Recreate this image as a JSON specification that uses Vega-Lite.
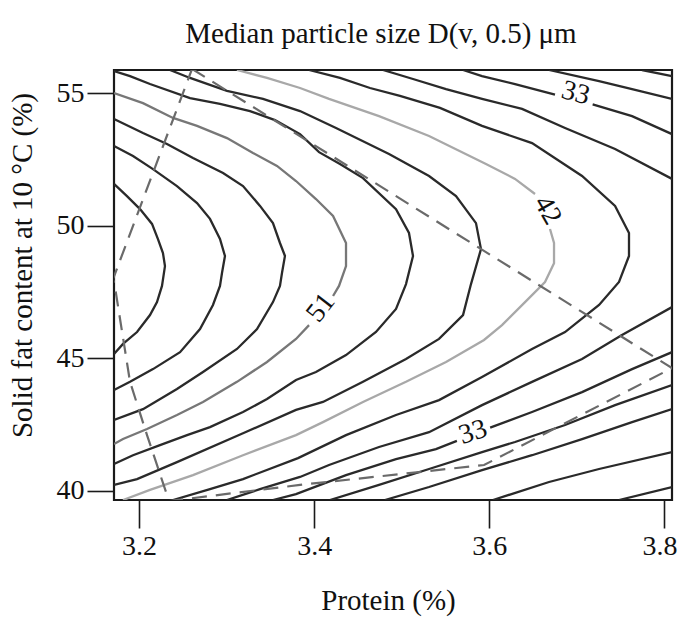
{
"$schema":"https://vega.github.io/schema/vega-lite/v6.json",
"width":558,"height":430,
"autosize":{"type":"none"},
"padding":{"left":114,"top":70,"right":6,"bottom":118},
"background":"white",
"title":{"text":"Median particle size D(v, 0.5) μm","font":"Liberation Serif","fontSize":29,"fontWeight":"normal","color":"#111","anchor":"middle","frame":"group","dx":-12,"dy":29,"baseline":"alphabetic","offset":27},
"config":{"view":{"stroke":"#1a1a1a","strokeWidth":2.2},"font":"Liberation Serif"},
"datasets":{
"contours":[
{"seg":"c60","level":"60","o":1,"protein":3.1715,"sfc":51.58},
{"seg":"c60","level":"60","o":2,"protein":3.1863,"sfc":51.12},
{"seg":"c60","level":"60","o":3,"protein":3.2012,"sfc":50.63},
{"seg":"c60","level":"60","o":4,"protein":3.2149,"sfc":50.07},
{"seg":"c60","level":"60","o":5,"protein":3.2217,"sfc":49.50},
{"seg":"c60","level":"60","o":6,"protein":3.2274,"sfc":48.97},
{"seg":"c60","level":"60","o":7,"protein":3.2297,"sfc":48.48},
{"seg":"c60","level":"60","o":8,"protein":3.2263,"sfc":47.73},
{"seg":"c60","level":"60","o":9,"protein":3.2206,"sfc":47.12},
{"seg":"c60","level":"60","o":10,"protein":3.2126,"sfc":46.63},
{"seg":"c60","level":"60","o":11,"protein":3.1978,"sfc":45.99},
{"seg":"c60","level":"60","o":12,"protein":3.1818,"sfc":45.54},
{"seg":"c60","level":"60","o":13,"protein":3.1715,"sfc":45.16},
{"seg":"c57","level":"57","o":1,"protein":3.1715,"sfc":53.01},
{"seg":"c57","level":"57","o":2,"protein":3.1932,"sfc":52.63},
{"seg":"c57","level":"57","o":3,"protein":3.2160,"sfc":52.14},
{"seg":"c57","level":"57","o":4,"protein":3.2434,"sfc":51.50},
{"seg":"c57","level":"57","o":5,"protein":3.2663,"sfc":50.86},
{"seg":"c57","level":"57","o":6,"protein":3.2811,"sfc":50.26},
{"seg":"c57","level":"57","o":7,"protein":3.2925,"sfc":49.50},
{"seg":"c57","level":"57","o":8,"protein":3.2982,"sfc":48.86},
{"seg":"c57","level":"57","o":9,"protein":3.2948,"sfc":48.22},
{"seg":"c57","level":"57","o":10,"protein":3.2925,"sfc":47.73},
{"seg":"c57","level":"57","o":11,"protein":3.2845,"sfc":47.01},
{"seg":"c57","level":"57","o":12,"protein":3.2697,"sfc":46.10},
{"seg":"c57","level":"57","o":13,"protein":3.2469,"sfc":45.23},
{"seg":"c57","level":"57","o":14,"protein":3.2160,"sfc":44.59},
{"seg":"c57","level":"57","o":15,"protein":3.1898,"sfc":44.11},
{"seg":"c57","level":"57","o":16,"protein":3.1715,"sfc":43.80},
{"seg":"c54","level":"54","o":1,"protein":3.1715,"sfc":54.03},
{"seg":"c54","level":"54","o":2,"protein":3.2046,"sfc":53.50},
{"seg":"c54","level":"54","o":3,"protein":3.2320,"sfc":53.09},
{"seg":"c54","level":"54","o":4,"protein":3.2617,"sfc":52.56},
{"seg":"c54","level":"54","o":5,"protein":3.2960,"sfc":51.99},
{"seg":"c54","level":"54","o":6,"protein":3.3188,"sfc":51.50},
{"seg":"c54","level":"54","o":7,"protein":3.3382,"sfc":50.75},
{"seg":"c54","level":"54","o":8,"protein":3.3530,"sfc":50.10},
{"seg":"c54","level":"54","o":9,"protein":3.3610,"sfc":49.35},
{"seg":"c54","level":"54","o":10,"protein":3.3667,"sfc":48.86},
{"seg":"c54","level":"54","o":11,"protein":3.3633,"sfc":48.22},
{"seg":"c54","level":"54","o":12,"protein":3.3610,"sfc":47.73},
{"seg":"c54","level":"54","o":13,"protein":3.3530,"sfc":47.12},
{"seg":"c54","level":"54","o":14,"protein":3.3348,"sfc":46.10},
{"seg":"c54","level":"54","o":15,"protein":3.3119,"sfc":45.35},
{"seg":"c54","level":"54","o":16,"protein":3.2731,"sfc":44.48},
{"seg":"c54","level":"54","o":17,"protein":3.2434,"sfc":43.84},
{"seg":"c54","level":"54","o":18,"protein":3.2046,"sfc":43.08},
{"seg":"c54","level":"54","o":19,"protein":3.1715,"sfc":42.67},
{"seg":"c51a","level":"51","o":1,"protein":3.1715,"sfc":55.01},
{"seg":"c51a","level":"51","o":2,"protein":3.2046,"sfc":54.63},
{"seg":"c51a","level":"51","o":3,"protein":3.2389,"sfc":54.07},
{"seg":"c51a","level":"51","o":4,"protein":3.2663,"sfc":53.77},
{"seg":"c51a","level":"51","o":5,"protein":3.3005,"sfc":53.31},
{"seg":"c51a","level":"51","o":6,"protein":3.3302,"sfc":52.75},
{"seg":"c51a","level":"51","o":7,"protein":3.3576,"sfc":52.26},
{"seg":"c51a","level":"51","o":8,"protein":3.3793,"sfc":51.69},
{"seg":"c51a","level":"51","o":9,"protein":3.4021,"sfc":51.01},
{"seg":"c51a","level":"51","o":10,"protein":3.4216,"sfc":50.37},
{"seg":"c51a","level":"51","o":11,"protein":3.4364,"sfc":49.35},
{"seg":"c51a","level":"51","o":12,"protein":3.4364,"sfc":48.48},
{"seg":"c51a","level":"51","o":13,"protein":3.4284,"sfc":47.73},
{"seg":"c51a","level":"51","o":14,"protein":3.4216,"sfc":47.35},
{"seg":"c51b","level":"51","o":1,"protein":3.3942,"sfc":46.25},
{"seg":"c51b","level":"51","o":2,"protein":3.3793,"sfc":45.73},
{"seg":"c51b","level":"51","o":3,"protein":3.3462,"sfc":44.86},
{"seg":"c51b","level":"51","o":4,"protein":3.3119,"sfc":44.11},
{"seg":"c51b","level":"51","o":5,"protein":3.2731,"sfc":43.35},
{"seg":"c51b","level":"51","o":6,"protein":3.2434,"sfc":42.86},
{"seg":"c51b","level":"51","o":7,"protein":3.2092,"sfc":42.33},
{"seg":"c51b","level":"51","o":8,"protein":3.1818,"sfc":41.95},
{"seg":"c51b","level":"51","o":9,"protein":3.1715,"sfc":41.76},
{"seg":"c48","level":"48","o":1,"protein":3.1715,"sfc":55.84},
{"seg":"c48","level":"48","o":2,"protein":3.1898,"sfc":55.65},
{"seg":"c48","level":"48","o":3,"protein":3.2126,"sfc":55.35},
{"seg":"c48","level":"48","o":4,"protein":3.2583,"sfc":54.82},
{"seg":"c48","level":"48","o":5,"protein":3.2925,"sfc":54.60},
{"seg":"c48","level":"48","o":6,"protein":3.3268,"sfc":54.33},
{"seg":"c48","level":"48","o":7,"protein":3.3553,"sfc":53.99},
{"seg":"c48","level":"48","o":8,"protein":3.3839,"sfc":53.46},
{"seg":"c48","level":"48","o":9,"protein":3.4056,"sfc":52.78},
{"seg":"c48","level":"48","o":10,"protein":3.4295,"sfc":52.33},
{"seg":"c48","level":"48","o":11,"protein":3.4558,"sfc":51.80},
{"seg":"c48","level":"48","o":12,"protein":3.4935,"sfc":50.63},
{"seg":"c48","level":"48","o":13,"protein":3.5083,"sfc":49.73},
{"seg":"c48","level":"48","o":14,"protein":3.5129,"sfc":48.86},
{"seg":"c48","level":"48","o":15,"protein":3.5049,"sfc":47.80},
{"seg":"c48","level":"48","o":16,"protein":3.4935,"sfc":46.86},
{"seg":"c48","level":"48","o":17,"protein":3.4706,"sfc":45.99},
{"seg":"c48","level":"48","o":18,"protein":3.4364,"sfc":45.12},
{"seg":"c48","level":"48","o":19,"protein":3.4021,"sfc":44.48},
{"seg":"c48","level":"48","o":20,"protein":3.3793,"sfc":44.18},
{"seg":"c48","level":"48","o":21,"protein":3.3462,"sfc":43.46},
{"seg":"c48","level":"48","o":22,"protein":3.3188,"sfc":42.97},
{"seg":"c48","level":"48","o":23,"protein":3.2811,"sfc":42.40},
{"seg":"c48","level":"48","o":24,"protein":3.2549,"sfc":42.10},
{"seg":"c48","level":"48","o":25,"protein":3.2240,"sfc":41.72},
{"seg":"c48","level":"48","o":26,"protein":3.1932,"sfc":41.34},
{"seg":"c48","level":"48","o":27,"protein":3.1715,"sfc":41.01},
{"seg":"c45","level":"45","o":1,"protein":3.2354,"sfc":55.88},
{"seg":"c45","level":"45","o":2,"protein":3.2583,"sfc":55.58},
{"seg":"c45","level":"45","o":3,"protein":3.3005,"sfc":55.09},
{"seg":"c45","level":"45","o":4,"protein":3.3416,"sfc":54.79},
{"seg":"c45","level":"45","o":5,"protein":3.3839,"sfc":54.33},
{"seg":"c45","level":"45","o":6,"protein":3.4250,"sfc":53.69},
{"seg":"c45","level":"45","o":7,"protein":3.4855,"sfc":52.71},
{"seg":"c45","level":"45","o":8,"protein":3.5312,"sfc":51.88},
{"seg":"c45","level":"45","o":9,"protein":3.5620,"sfc":51.12},
{"seg":"c45","level":"45","o":10,"protein":3.5848,"sfc":50.10},
{"seg":"c45","level":"45","o":11,"protein":3.5905,"sfc":49.12},
{"seg":"c45","level":"45","o":12,"protein":3.5791,"sfc":47.80},
{"seg":"c45","level":"45","o":13,"protein":3.5700,"sfc":46.63},
{"seg":"c45","level":"45","o":14,"protein":3.5426,"sfc":45.73},
{"seg":"c45","level":"45","o":15,"protein":3.5049,"sfc":44.97},
{"seg":"c45","level":"45","o":16,"protein":3.4558,"sfc":44.11},
{"seg":"c45","level":"45","o":17,"protein":3.4101,"sfc":43.35},
{"seg":"c45","level":"45","o":18,"protein":3.3793,"sfc":43.05},
{"seg":"c45","level":"45","o":19,"protein":3.3188,"sfc":42.17},
{"seg":"c45","level":"45","o":20,"protein":3.2434,"sfc":41.08},
{"seg":"c45","level":"45","o":21,"protein":3.1978,"sfc":40.44},
{"seg":"c45","level":"45","o":22,"protein":3.1715,"sfc":40.22},
{"seg":"c42a","level":"42","o":1,"protein":3.3119,"sfc":55.88},
{"seg":"c42a","level":"42","o":2,"protein":3.3462,"sfc":55.58},
{"seg":"c42a","level":"42","o":3,"protein":3.3839,"sfc":55.20},
{"seg":"c42a","level":"42","o":4,"protein":3.4170,"sfc":54.79},
{"seg":"c42a","level":"42","o":5,"protein":3.4741,"sfc":54.14},
{"seg":"c42a","level":"42","o":6,"protein":3.5312,"sfc":53.39},
{"seg":"c42a","level":"42","o":7,"protein":3.5962,"sfc":52.33},
{"seg":"c42a","level":"42","o":8,"protein":3.6294,"sfc":51.77},
{"seg":"c42a","level":"42","o":9,"protein":3.6522,"sfc":51.20},
{"seg":"c42b","level":"42","o":1,"protein":3.6693,"sfc":49.88},
{"seg":"c42b","level":"42","o":2,"protein":3.6739,"sfc":49.35},
{"seg":"c42b","level":"42","o":3,"protein":3.6739,"sfc":48.59},
{"seg":"c42b","level":"42","o":4,"protein":3.6636,"sfc":47.88},
{"seg":"c42b","level":"42","o":5,"protein":3.6408,"sfc":47.12},
{"seg":"c42b","level":"42","o":6,"protein":3.6145,"sfc":46.25},
{"seg":"c42b","level":"42","o":7,"protein":3.5940,"sfc":45.69},
{"seg":"c42b","level":"42","o":8,"protein":3.5506,"sfc":44.86},
{"seg":"c42b","level":"42","o":9,"protein":3.5049,"sfc":44.11},
{"seg":"c42b","level":"42","o":10,"protein":3.4558,"sfc":43.35},
{"seg":"c42b","level":"42","o":11,"protein":3.4101,"sfc":42.59},
{"seg":"c42b","level":"42","o":12,"protein":3.3793,"sfc":42.10},
{"seg":"c42b","level":"42","o":13,"protein":3.3188,"sfc":41.34},
{"seg":"c42b","level":"42","o":14,"protein":3.2617,"sfc":40.59},
{"seg":"c42b","level":"42","o":15,"protein":3.2126,"sfc":40.03},
{"seg":"c42b","level":"42","o":16,"protein":3.1818,"sfc":39.65},
{"seg":"c39","level":"39","o":1,"protein":3.3942,"sfc":55.88},
{"seg":"c39","level":"39","o":2,"protein":3.4295,"sfc":55.58},
{"seg":"c39","level":"39","o":3,"protein":3.4638,"sfc":55.20},
{"seg":"c39","level":"39","o":4,"protein":3.4980,"sfc":54.90},
{"seg":"c39","level":"39","o":5,"protein":3.5437,"sfc":54.45},
{"seg":"c39","level":"39","o":6,"protein":3.5917,"sfc":53.77},
{"seg":"c39","level":"39","o":7,"protein":3.6488,"sfc":53.12},
{"seg":"c39","level":"39","o":8,"protein":3.7059,"sfc":51.88},
{"seg":"c39","level":"39","o":9,"protein":3.7436,"sfc":50.75},
{"seg":"c39","level":"39","o":10,"protein":3.7595,"sfc":49.73},
{"seg":"c39","level":"39","o":11,"protein":3.7595,"sfc":48.86},
{"seg":"c39","level":"39","o":12,"protein":3.7481,"sfc":47.88},
{"seg":"c39","level":"39","o":13,"protein":3.7253,"sfc":47.01},
{"seg":"c39","level":"39","o":14,"protein":3.6865,"sfc":45.99},
{"seg":"c39","level":"39","o":15,"protein":3.6488,"sfc":45.35},
{"seg":"c39","level":"39","o":16,"protein":3.5917,"sfc":44.29},
{"seg":"c39","level":"39","o":17,"protein":3.5426,"sfc":43.42},
{"seg":"c39","level":"39","o":18,"protein":3.4935,"sfc":42.86},
{"seg":"c39","level":"39","o":19,"protein":3.4364,"sfc":42.10},
{"seg":"c39","level":"39","o":20,"protein":3.3816,"sfc":41.23},
{"seg":"c39","level":"39","o":21,"protein":3.3188,"sfc":40.44},
{"seg":"c39","level":"39","o":22,"protein":3.2811,"sfc":40.06},
{"seg":"c39","level":"39","o":23,"protein":3.2389,"sfc":39.65},
{"seg":"c36t","level":"36","o":1,"protein":3.4786,"sfc":55.88},
{"seg":"c36t","level":"36","o":2,"protein":3.5129,"sfc":55.54},
{"seg":"c36t","level":"36","o":3,"protein":3.5506,"sfc":55.16},
{"seg":"c36t","level":"36","o":4,"protein":3.5917,"sfc":54.79},
{"seg":"c36t","level":"36","o":5,"protein":3.6374,"sfc":54.41},
{"seg":"c36t","level":"36","o":6,"protein":3.6865,"sfc":53.69},
{"seg":"c36t","level":"36","o":7,"protein":3.7436,"sfc":52.90},
{"seg":"c36t","level":"36","o":8,"protein":3.8086,"sfc":51.77},
{"seg":"c36b","level":"36","o":1,"protein":3.3005,"sfc":39.65},
{"seg":"c36b","level":"36","o":2,"protein":3.3382,"sfc":40.06},
{"seg":"c36b","level":"36","o":3,"protein":3.3839,"sfc":40.52},
{"seg":"c36b","level":"36","o":4,"protein":3.4170,"sfc":40.97},
{"seg":"c36b","level":"36","o":5,"protein":3.4741,"sfc":41.65},
{"seg":"c36b","level":"36","o":6,"protein":3.5312,"sfc":42.21},
{"seg":"c36b","level":"36","o":7,"protein":3.5917,"sfc":43.23},
{"seg":"c36b","level":"36","o":8,"protein":3.6488,"sfc":44.11},
{"seg":"c36b","level":"36","o":9,"protein":3.7059,"sfc":44.97},
{"seg":"c36b","level":"36","o":10,"protein":3.7515,"sfc":45.88},
{"seg":"c36b","level":"36","o":11,"protein":3.8086,"sfc":46.93},
{"seg":"c33ta","level":"33","o":1,"protein":3.5700,"sfc":55.88},
{"seg":"c33ta","level":"33","o":2,"protein":3.5917,"sfc":55.65},
{"seg":"c33ta","level":"33","o":3,"protein":3.6294,"sfc":55.35},
{"seg":"c33ta","level":"33","o":4,"protein":3.6750,"sfc":54.95},
{"seg":"c33tb","level":"33","o":1,"protein":3.7180,"sfc":54.58},
{"seg":"c33tb","level":"33","o":2,"protein":3.7630,"sfc":54.14},
{"seg":"c33tb","level":"33","o":3,"protein":3.8086,"sfc":53.46},
{"seg":"c33ba","level":"33","o":1,"protein":3.3530,"sfc":39.65},
{"seg":"c33ba","level":"33","o":2,"protein":3.3793,"sfc":39.87},
{"seg":"c33ba","level":"33","o":3,"protein":3.4364,"sfc":40.59},
{"seg":"c33ba","level":"33","o":4,"protein":3.4935,"sfc":41.19},
{"seg":"c33ba","level":"33","o":5,"protein":3.5391,"sfc":41.57},
{"seg":"c33ba","level":"33","o":6,"protein":3.5630,"sfc":41.88},
{"seg":"c33bb","level":"33","o":1,"protein":3.6010,"sfc":42.38},
{"seg":"c33bb","level":"33","o":2,"protein":3.6488,"sfc":42.97},
{"seg":"c33bb","level":"33","o":3,"protein":3.7059,"sfc":43.72},
{"seg":"c33bb","level":"33","o":4,"protein":3.7630,"sfc":44.59},
{"seg":"c33bb","level":"33","o":5,"protein":3.8086,"sfc":45.23},
{"seg":"c30t","level":"30","o":1,"protein":3.6682,"sfc":55.88},
{"seg":"c30t","level":"30","o":2,"protein":3.7253,"sfc":55.46},
{"seg":"c30t","level":"30","o":3,"protein":3.7630,"sfc":55.16},
{"seg":"c30t","level":"30","o":4,"protein":3.8086,"sfc":54.79},
{"seg":"c30b","level":"30","o":1,"protein":3.4181,"sfc":39.65},
{"seg":"c30b","level":"30","o":2,"protein":3.4741,"sfc":40.22},
{"seg":"c30b","level":"30","o":3,"protein":3.5312,"sfc":40.82},
{"seg":"c30b","level":"30","o":4,"protein":3.5917,"sfc":41.46},
{"seg":"c30b","level":"30","o":5,"protein":3.6294,"sfc":41.84},
{"seg":"c30b","level":"30","o":6,"protein":3.6865,"sfc":42.48},
{"seg":"c30b","level":"30","o":7,"protein":3.7436,"sfc":43.23},
{"seg":"c30b","level":"30","o":8,"protein":3.8086,"sfc":43.99},
{"seg":"c27t","level":"27","o":1,"protein":3.7744,"sfc":55.88},
{"seg":"c27t","level":"27","o":2,"protein":3.8086,"sfc":55.65},
{"seg":"c27b","level":"27","o":1,"protein":3.4809,"sfc":39.65},
{"seg":"c27b","level":"27","o":2,"protein":3.5312,"sfc":40.14},
{"seg":"c27b","level":"27","o":3,"protein":3.5917,"sfc":40.78},
{"seg":"c27b","level":"27","o":4,"protein":3.6488,"sfc":41.34},
{"seg":"c27b","level":"27","o":5,"protein":3.7059,"sfc":41.95},
{"seg":"c27b","level":"27","o":6,"protein":3.7630,"sfc":42.59},
{"seg":"c27b","level":"27","o":7,"protein":3.8086,"sfc":43.08},
{"seg":"c24","level":"24","o":1,"protein":3.6042,"sfc":39.65},
{"seg":"c24","level":"24","o":2,"protein":3.6682,"sfc":40.33},
{"seg":"c24","level":"24","o":3,"protein":3.7253,"sfc":40.82},
{"seg":"c24","level":"24","o":4,"protein":3.8086,"sfc":41.46},
{"seg":"c21","level":"21","o":1,"protein":3.7481,"sfc":39.65},
{"seg":"c21","level":"21","o":2,"protein":3.8086,"sfc":40.14}
],
"boundary":[
{"o":1,"protein":3.2606,"sfc":55.92},
{"o":2,"protein":3.8086,"sfc":44.63},
{"o":3,"protein":3.5940,"sfc":40.97},
{"o":4,"protein":3.3839,"sfc":40.22},
{"o":5,"protein":3.2343,"sfc":39.61},
{"o":6,"protein":3.2092,"sfc":42.10},
{"o":7,"protein":3.1898,"sfc":44.11},
{"o":8,"protein":3.1726,"sfc":47.69},
{"o":9,"protein":3.1704,"sfc":47.99},
{"o":10,"protein":3.2606,"sfc":55.92}
],
"labels":[
{"k":"51","text":"51","protein":3.4079,"sfc":46.90},
{"k":"42","text":"42","protein":3.6665,"sfc":50.58},
{"k":"33t","text":"33","protein":3.6985,"sfc":55.00},
{"k":"33b","text":"33","protein":3.5814,"sfc":42.20}
]
},
"layer":[
{"data":{"name":"contours"},
 "mark":{"type":"line","strokeWidth":2.3,"clip":true},
 "encoding":{
  "x":{"field":"protein","type":"quantitative","scale":{"domain":[3.1715,3.8086],"nice":false,"zero":false},
   "axis":{"title":"Protein (%)","values":[3.2,3.4,3.6,3.8],"format":".1f","grid":false,"domain":false,"tickSize":28,"tickWidth":1.6,"tickColor":"#1a1a1a","labelFont":"Liberation Serif","labelFontSize":28,"labelColor":"#111","labelPadding":4,"labelFlush":false,"labelOverlap":false,
    "labelOffset":{"condition":{"test":"datum.value > 3.75","value":-5},"value":0},
    "titleFont":"Liberation Serif","titleFontSize":29,"titleFontWeight":"normal","titleColor":"#111","titleX":274,"titleY":109,"titleAlign":"center","titleBaseline":"alphabetic"}},
  "y":{"field":"sfc","type":"quantitative","scale":{"domain":[39.65,55.88],"nice":false,"zero":false},
   "axis":{"title":"Solid fat content at 10 °C (%)","values":[40,45,50,55],"grid":false,"domain":false,"tickSize":27,"tickWidth":1.6,"tickColor":"#1a1a1a","labelFont":"Liberation Serif","labelFontSize":28,"labelColor":"#111","labelPadding":3,"labelFlush":false,"labelOverlap":false,"titleFont":"Liberation Serif","titleFontSize":29,"titleFontWeight":"normal","titleColor":"#111","titleAngle":-90,"titleX":-83,"titleY":195,"titleAlign":"center","titleBaseline":"alphabetic"}},
  "detail":{"field":"seg"},
  "order":{"field":"o","type":"quantitative"},
  "color":{"field":"level","type":"nominal","legend":null,
   "scale":{"domain":["60","57","54","51","48","45","42","39","36","33","30","27","24","21"],
            "range":["#2a2a2a","#2a2a2a","#2a2a2a","#777777","#2a2a2a","#2a2a2a","#a8a8a8","#2a2a2a","#2a2a2a","#2a2a2a","#2a2a2a","#2a2a2a","#2a2a2a","#2a2a2a"]}}
 }},
{"data":{"name":"boundary"},
 "mark":{"type":"line","strokeWidth":2.2,"strokeDash":[15,9],"color":"#6a6a6a","clip":true},
 "encoding":{
  "x":{"field":"protein","type":"quantitative"},
  "y":{"field":"sfc","type":"quantitative"},
  "order":{"field":"o","type":"quantitative"}
 }},
{"data":{"name":"labels"},"transform":[{"filter":"datum.k=='51'"}],
 "mark":{"type":"text","angle":-52,"font":"Liberation Serif","fontSize":28,"color":"#111","align":"center","baseline":"middle"},
 "encoding":{"x":{"field":"protein","type":"quantitative"},"y":{"field":"sfc","type":"quantitative"},"text":{"field":"text"}}},
{"data":{"name":"labels"},"transform":[{"filter":"datum.k=='42'"}],
 "mark":{"type":"text","angle":60,"font":"Liberation Serif","fontSize":28,"color":"#111","align":"center","baseline":"middle"},
 "encoding":{"x":{"field":"protein","type":"quantitative"},"y":{"field":"sfc","type":"quantitative"},"text":{"field":"text"}}},
{"data":{"name":"labels"},"transform":[{"filter":"datum.k=='33t'"}],
 "mark":{"type":"text","angle":15,"font":"Liberation Serif","fontSize":28,"color":"#111","align":"center","baseline":"middle"},
 "encoding":{"x":{"field":"protein","type":"quantitative"},"y":{"field":"sfc","type":"quantitative"},"text":{"field":"text"}}},
{"data":{"name":"labels"},"transform":[{"filter":"datum.k=='33b'"}],
 "mark":{"type":"text","angle":-18,"font":"Liberation Serif","fontSize":28,"color":"#111","align":"center","baseline":"middle"},
 "encoding":{"x":{"field":"protein","type":"quantitative"},"y":{"field":"sfc","type":"quantitative"},"text":{"field":"text"}}}
]
}
